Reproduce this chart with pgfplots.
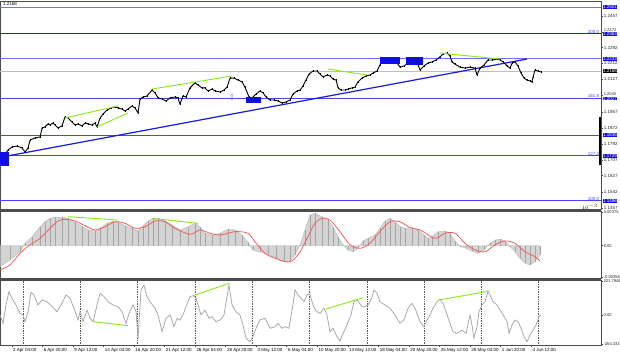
\documentclass[border=0pt]{standalone}
\usepackage{pgfplots}
\usepackage{pgfplotstable}
\pgfplotsset{compat=1.18}
\usepackage{fontspec}
\setmainfont{Liberation Sans}
\newfontfamily\dejavu{DejaVu Sans}
\definecolor{lvl}{RGB}{110,110,255}
\definecolor{lvlmid}{RGB}{70,70,245}
\definecolor{lvldark}{RGB}{30,30,230}
\definecolor{trend}{RGB}{25,25,225}
\definecolor{grn}{RGB}{135,235,20}
\definecolor{boxblue}{RGB}{15,15,225}
\definecolor{sig}{RGB}{240,95,95}
\definecolor{hist}{RGB}{212,212,212}
\definecolor{histl}{RGB}{165,165,165}
\definecolor{cci}{RGB}{165,165,165}
\newcommand{\tf}{\fontsize{4.5}{5}\selectfont}
\newcommand{\tfs}{\fontsize{4.1}{5}\selectfont}

\pgfplotstableread{
b p
-10.6 1.1723
-7.8 1.1759
-5.6 1.1775
-2.8 1.1780
0 1.1770
1.7 1.1749
3.4 1.1770
4.5 1.1811
7.3 1.1822
10.1 1.1827
11.2 1.1874
12.8 1.1879
14.5 1.1895
15.6 1.1889
17.3 1.1900
18.4 1.1889
20.1 1.1874
22.3 1.1884
24.0 1.1931
25.7 1.1926
27.9 1.1905
29.6 1.1889
31.3 1.1895
33.5 1.1884
35.2 1.1900
36.9 1.1895
39.1 1.1889
40.8 1.1900
41.9 1.1879
43.6 1.1926
45.2 1.1946
47.5 1.1967
49.7 1.1978
51.9 1.1983
53.6 1.1978
55.8 1.1972
57.5 1.1962
59.2 1.1972
61.4 1.1988
63.1 1.1978
64.8 1.1952
65.9 1.2024
67.6 1.2035
69.8 1.2040
72.6 1.2071
74.3 1.2056
76.0 1.2030
78.2 1.2024
80.4 1.2014
82.7 1.2030
85.4 1.2035
87.1 1.2030
88.2 1.1998
89.9 1.2040
91.6 1.2035
93.8 1.2082
96.6 1.2108
98.3 1.2097
100.5 1.2082
102.2 1.2082
103.9 1.2066
106.1 1.2076
107.8 1.2066
110.6 1.2061
112.8 1.2071
114.5 1.2086
116.2 1.2133
118.4 1.2133
120.6 1.2123
122.9 1.2113
124.5 1.2086
126.8 1.2035
128.4 1.2030
130.7 1.2050
132.9 1.2066
134.6 1.2056
136.3 1.2035
138.5 1.2019
140.7 1.2019
143.0 1.2014
145.2 1.2004
147.4 1.2009
149.7 1.2019
151.3 1.2050
153.6 1.2066
155.3 1.2071
156.9 1.2092
158.6 1.2123
160.3 1.2154
162.5 1.2170
164.7 1.2170
166.4 1.2154
168.1 1.2139
170.3 1.2149
172.0 1.2144
173.7 1.2128
175.4 1.2123
176.5 1.2082
178.2 1.2071
180.4 1.2071
182.1 1.2076
184.3 1.2082
186.0 1.2086
187.6 1.2113
189.9 1.2133
192.1 1.2144
194.3 1.2149
196.0 1.2159
198.3 1.2170
199.9 1.2201
201.6 1.2227
203.3 1.2232
205.5 1.2227
208.3 1.2227
211.1 1.2190
213.3 1.2196
215.6 1.2211
217.8 1.2237
220.6 1.2217
222.3 1.2175
224.5 1.2196
226.7 1.2211
229.0 1.2217
231.2 1.2227
233.4 1.2243
235.1 1.2258
237.4 1.2263
239.0 1.2248
240.1 1.2217
241.8 1.2206
244.6 1.2190
247.4 1.2185
250.2 1.2190
253.0 1.2185
254.1 1.2149
255.8 1.2185
258.0 1.2201
260.2 1.2227
262.5 1.2227
265.3 1.2232
267.0 1.2227
268.7 1.2217
270.9 1.2196
272.5 1.2185
273.7 1.2211
275.3 1.2217
277.0 1.2196
278.7 1.2159
280.4 1.2133
282.0 1.2123
283.7 1.2118
284.8 1.2113
285.4 1.2139
286.5 1.2175
288.2 1.2170
289.9 1.2165
}\price

\pgfplotstableread{
b h
-12.3 -0.00236
-6.7 -0.00161
-1.1 -0.00068
1.7 0.00027
5.6 0.00101
10.1 0.00214
12.8 0.0027
15.6 0.00308
18.4 0.0032
22.3 0.00323
25.7 0.00308
29.6 0.00263
33.5 0.00214
36.9 0.00177
40.8 0.00166
43.6 0.00196
47.5 0.00252
50.8 0.00278
53.6 0.00263
57.5 0.00225
61.4 0.00196
64.8 0.00166
67.6 0.00225
70.4 0.00278
73.2 0.00308
76.0 0.00308
79.9 0.00278
83.8 0.00233
88.2 0.00177
92.7 0.00214
96.6 0.00252
99.4 0.00214
102.2 0.0014
106.1 0.0012
110.6 0.0014
115.0 0.00188
119.0 0.00177
122.9 0.0012
126.2 0.00038
129.0 -0.00052
132.9 -0.00071
137.4 -0.00097
141.9 -0.00142
146.3 -0.0018
149.7 -0.00172
152.5 -0.00105
155.3 0.0001
158.0 0.00177
160.8 0.00344
163.6 0.00365
167.5 0.00327
170.9 0.0029
173.7 0.00214
176.5 0.00101
179.3 0.0001
182.1 -0.00048
184.9 -0.00068
187.6 -0.0003
190.4 0.00053
193.2 0.00083
197.1 0.0012
199.9 0.00196
202.7 0.00278
205.5 0.00308
208.3 0.0027
211.1 0.00214
213.9 0.00196
217.8 0.00203
221.2 0.00177
224.5 0.0012
226.7 0.00083
229.0 0.00101
232.3 0.00158
236.2 0.00166
239.0 0.0014
241.8 0.00053
244.6 -0.00011
248.0 -0.0003
251.3 -0.0006
254.7 -0.00086
258.0 -0.00048
261.4 0.00027
264.2 0.00064
267.0 0.00075
269.7 0.00053
272.5 -0.00011
275.3 -0.00068
278.1 -0.00142
280.9 -0.00198
283.7 -0.00217
286.5 -0.0018
289.3 -0.00105
}\hist

\pgfplotstableread{
b s
-12.3 -0.00274
-6.7 -0.00217
-1.1 -0.00086
4.5 0.0001
10.1 0.00083
15.6 0.00196
20.1 0.00278
24.0 0.00297
29.6 0.00278
35.2 0.00225
40.8 0.00177
46.4 0.00214
51.9 0.0027
57.5 0.00252
63.1 0.00196
68.7 0.00214
74.3 0.00278
79.9 0.0027
85.4 0.00196
93.8 0.00128
99.4 0.00177
105.0 0.0014
110.6 0.0012
119.0 0.00158
126.2 0.0014
130.1 0.00045
135.7 -0.00086
141.3 -0.00142
146.9 -0.0018
150.8 -0.00172
155.3 -0.00068
159.7 0.00101
163.6 0.00252
167.5 0.00308
172.0 0.0029
177.6 0.00158
183.2 0.0001
188.8 -0.0003
194.3 0.00027
199.9 0.00158
205.5 0.0027
211.1 0.0027
216.7 0.00203
222.3 0.00177
230.6 0.00083
236.2 0.0014
241.8 0.0014
247.4 0.00027
253.0 -0.00048
258.6 -0.00068
264.2 0.0001
269.7 0.00053
275.3 0.00027
280.9 -0.00068
286.5 -0.00124
289.3 -0.00172
}\signal

\pgfplotstableread{
b c
-12.3 6
-10.6 -72
-8.9 99
-7.3 222
-5.6 161
-3.4 99
-1.1 21
0.6 6
1.7 -57
3.4 36
5.0 217
6.7 192
8.9 99
11.2 145
14.0 129
16.8 83
19.5 36
22.3 114
24.6 192
26.8 161
29.0 68
31.3 -41
32.4 36
34.1 -57
36.3 52
38.0 -25
39.7 -57
41.9 99
43.6 207
45.8 176
48.0 129
50.8 99
53.6 83
55.8 36
58.1 -72
59.8 21
62.0 99
63.7 36
64.8 -211
66.5 238
68.1 285
69.8 176
71.5 129
74.3 68
76.0 6
78.2 -150
80.4 -25
82.7 6
84.9 -103
86.6 -25
88.2 -41
89.9 6
91.6 83
93.8 176
95.5 185
97.2 161
98.3 99
100.0 6
102.2 52
104.4 -25
106.1 -10
108.3 -57
110.6 -41
112.8 6
114.5 176
115.6 285
117.3 99
119.5 36
121.7 6
123.4 -87
125.1 -211
127.3 -243
129.0 -196
130.7 -118
132.9 -41
135.7 -25
138.5 -118
141.3 -103
143.0 -72
145.2 -118
146.9 -103
149.1 -118
151.3 99
152.5 238
154.1 192
155.8 161
157.5 129
159.2 192
160.8 200
162.5 99
164.2 43
166.4 21
168.7 68
170.3 6
172.0 -150
173.7 -118
175.9 -196
177.6 -236
179.3 -165
181.5 -87
183.7 6
185.4 129
187.1 145
189.9 83
191.6 83
193.2 99
194.9 145
196.6 238
198.3 207
199.9 129
202.7 99
205.5 68
208.3 6
211.1 -72
213.3 -41
215.6 68
217.8 114
219.5 68
222.3 -57
224.5 -103
226.2 -41
227.9 6
229.5 68
231.8 129
233.4 152
235.1 114
236.8 36
239.0 -72
240.7 -150
242.9 -165
245.7 -134
248.0 -165
250.2 6
251.3 -87
252.4 -211
254.1 -103
255.2 36
256.9 99
258.6 129
260.2 222
261.4 192
263.0 129
265.3 99
267.0 52
268.7 6
270.9 -57
272.0 -165
273.7 -87
275.3 -41
277.0 -57
278.7 -118
280.4 -196
282.0 -243
283.7 -180
285.4 -134
287.1 -87
288.8 -10
289.9 6
}\cci

\pgfplotsset{
  chart/.style={
    scale only axis, width=601bp,
    xmin=-12.29, xmax=323.36,
    axis line style={draw=black!70, line width=0.5bp},
    xtick=\empty,
    minor xtick={0.56,32.56,...,288.6},
    xminorgrids, minor tick length=0pt,
    minor grid style={black!65, dash pattern=on 0.5bp off 1.2bp, line width=0.45bp},
    ytick pos=right, yticklabel pos=right,
    tick align=outside, major tick length=2bp,
    tick style={black!70, line width=0.4bp},
    yticklabel style={font=\tf, text=black!85, inner sep=0.6bp},
    clip mode=individual,
  }
}

\begin{document}
\begin{tikzpicture}
\fill[white] (0bp,0bp) rectangle (620bp,357bp);

% ---------------- main price panel
\begin{axis}[chart, at={(0bp,148bp)}, anchor=south west, height=208bp,
  ymin=1.14527, ymax=1.25337,
  ytick={1.1457,1.1542,1.1627,1.1707,1.1792,1.1872,1.1957,1.2042,1.2127,1.2212,1.2292,1.2372,1.2457},
  yticklabels={1.1457,1.1542,1.1627,1.1707,1.1792,1.1872,1.1957,,1.2127,1.2212,1.2292,,1.2457}]
  % levels
  \addplot[lvl, line width=0.7bp] coordinates {(-12.29,1.2501) (323.36,1.2501)};
  \addplot[lvldark, line width=1.3bp] coordinates {(-12.29,1.2363) (323.36,1.2363)};
  \addplot[lvl, line width=0.8bp] coordinates {(-12.29,1.2233) (323.36,1.2233)};
  \addplot[black!25, line width=0.4bp] coordinates {(-12.29,1.2168) (323.36,1.2168)};
  \addplot[lvlmid, line width=0.9bp] coordinates {(-12.29,1.2027) (323.36,1.2027)};
  \addplot[lvlmid, line width=0.9bp] coordinates {(-12.29,1.1836) (323.36,1.1836)};
  \addplot[lvlmid, line width=0.9bp] coordinates {(-12.29,1.1729) (323.36,1.1729)};
  \addplot[lvlmid, line width=0.9bp] coordinates {(-12.29,1.1496) (323.36,1.1496)};
  % trend line
  \addplot[trend, line width=1.2bp] coordinates {(-9.5,1.1726) (282.0,1.2232)};
  % price (candles as a close line with wicks)
  \addplot[black, line width=0.9bp, line join=round,
    error bars/.cd, y dir=both, y fixed=0.0007,
    error mark=none, error bar style={black, line width=0.55bp}] table[x=b,y=p] {\price};
  % green divergence lines
  \addplot[grn, line width=0.9bp] coordinates {(24.0,1.1926) (53.6,1.1988)};
  \addplot[grn, line width=0.9bp] coordinates {(41.9,1.1879) (59.2,1.1952)};
  \addplot[grn, line width=0.9bp] coordinates {(72.6,1.2076) (117.3,1.2144)};
  \addplot[grn, line width=0.9bp] coordinates {(170.9,1.2180) (192.7,1.2149)};
  \addplot[grn, line width=0.9bp] coordinates {(233.4,1.2263) (267.0,1.2232)};
  % blue boxes
  \addplot[fill=boxblue, draw=none] coordinates {(-12.29,1.1749) (-7.3,1.1749) (-7.3,1.1676) (-12.29,1.1676)} --cycle;
  \addplot[fill=boxblue, draw=none] coordinates {(125.1,1.2035) (133.5,1.2035) (133.5,1.2004) (125.1,1.2004)} --cycle;
  \addplot[fill=boxblue, draw=none] coordinates {(199.9,1.2243) (211.1,1.2243) (211.1,1.2206) (199.9,1.2206)} --cycle;
  \addplot[fill=boxblue, draw=none] coordinates {(214.5,1.2243) (223.9,1.2243) (223.9,1.2201) (214.5,1.2201)} --cycle;
  \addplot[black, line width=1.4bp] coordinates {(322.9,1.1931) (322.9,1.1681)};
  \node[text=lvl, font=\dejavu\fontsize{8.5}{8.5}\selectfont, inner sep=0pt] at (axis cs:117.3,1.2033) {⇩};
  % level labels
  \node[anchor=south east, text=lvlmid, font=\tf, inner sep=0.3bp] at (axis cs:322.6,1.2363) {200.0};
  \node[anchor=south east, text=lvlmid, font=\tf, inner sep=0.3bp] at (axis cs:322.6,1.2027) {161.8};
  \node[anchor=south east, text=lvlmid, font=\tf, inner sep=0.3bp] at (axis cs:322.6,1.1729) {127.2};
  \node[anchor=south east, text=lvlmid, font=\tf, inner sep=0.3bp] at (axis cs:322.6,1.1496) {100.0};
  % tick labels nudged clear of the level boxes
  \node[anchor=south west, font=\tfs, text=black!85, inner sep=0.3bp, xshift=2.3bp] at (axis cs:323.36,1.2372) {1.2372};
  \node[anchor=south west, font=\tfs, text=black!85, inner sep=0.3bp, xshift=2.3bp] at (axis cs:323.36,1.2042) {1.2042};
  % right boxes
  \pgfplotsinvokeforeach{1.2501,1.2363,1.2233,1.2027,1.1836,1.1729,1.1496}{
    \node[anchor=west, fill=boxblue, text=white, font=\tf, inner sep=0.4bp, xshift=1.5bp] at (axis cs:323.36,#1) {#1};
  }
  \node[anchor=west, fill=black, text=white, font=\tf, inner sep=0.4bp, xshift=1.5bp] at (axis cs:323.36,1.2168) {1.2168};
  \node[anchor=north west, font=\tf, inner sep=0.5bp] at (rel axis cs:0.004,0.995) {1.2168};
\end{axis}

\fill[black!70] (0bp,145.5bp) rectangle (601bp,148bp);

% ---------------- MACD panel
\begin{axis}[chart, at={(0bp,79bp)}, anchor=south west, height=66.5bp,
  ymin=-0.00364, ymax=0.00385,
  ytick={-0.00358,0,0.00375}, yticklabels={-0.00358,0.00,0.00375},
  yticklabel style={font=\tfs}]
  \addplot[fill=hist, draw=black!30, line width=0.3bp] table[x=b,y=h] {\hist} \closedcycle;
  \addplot[ycomb, histl, line width=0.5bp, mark=none] table[x=b,y=h] {\hist};
  \addplot[sig, line width=0.8bp, smooth] table[x=b,y=s] {\signal};
  \addplot[grn, line width=0.9bp] coordinates {(25.7,0.00327) (53.0,0.0029)};
  \addplot[grn, line width=0.9bp] coordinates {(72.6,0.00308) (98.3,0.00252)};
\end{axis}

\fill[black!70] (0bp,76.5bp) rectangle (601bp,79bp);

% ---------------- CCI panel
\begin{axis}[chart, at={(0bp,11.5bp)}, anchor=south west, height=65bp,
  ymin=-278, ymax=326,
  ytick={-264.333,0,321.7946}, yticklabels={-264.333,0.00,321.7946},
  yticklabel style={font=\tfs, inner sep=0.4bp},
  xtick={-22.813,-5.752,...,284.3},
  xticklabels={30 Mar 12:00,2 Apr 04:00,6 Apr 20:00,9 Apr 12:00,14 Apr 04:00,16 Apr 20:00,21 Apr 12:00,26 Apr 04:00,28 Apr 20:00,3 May 12:00,6 May 04:00,10 May 20:00,13 May 12:00,18 May 04:00,20 May 20:00,25 May 12:00,28 May 04:00,1 Jun 20:00,4 Jun 12:00},
  xtick pos=bottom,
  xticklabel style={font=\tf, anchor=north west, inner sep=0.5bp, xshift=0.8bp}]
  \addplot[cci, line width=0.75bp] table[x=b,y=c] {\cci};
  \addplot[grn, line width=0.9bp] coordinates {(40.2,-57) (59.2,-94)};
  \addplot[grn, line width=0.9bp] coordinates {(95.5,185) (115.6,300)};
  \addplot[grn, line width=0.9bp] coordinates {(169.8,61) (190.4,166)};
  \addplot[grn, line width=0.9bp] coordinates {(232.9,145) (261.4,229)};
\end{axis}

\pgfresetboundingbox
\useasboundingbox (0bp,0bp) rectangle (620bp,357bp);
\end{tikzpicture}
\end{document}
